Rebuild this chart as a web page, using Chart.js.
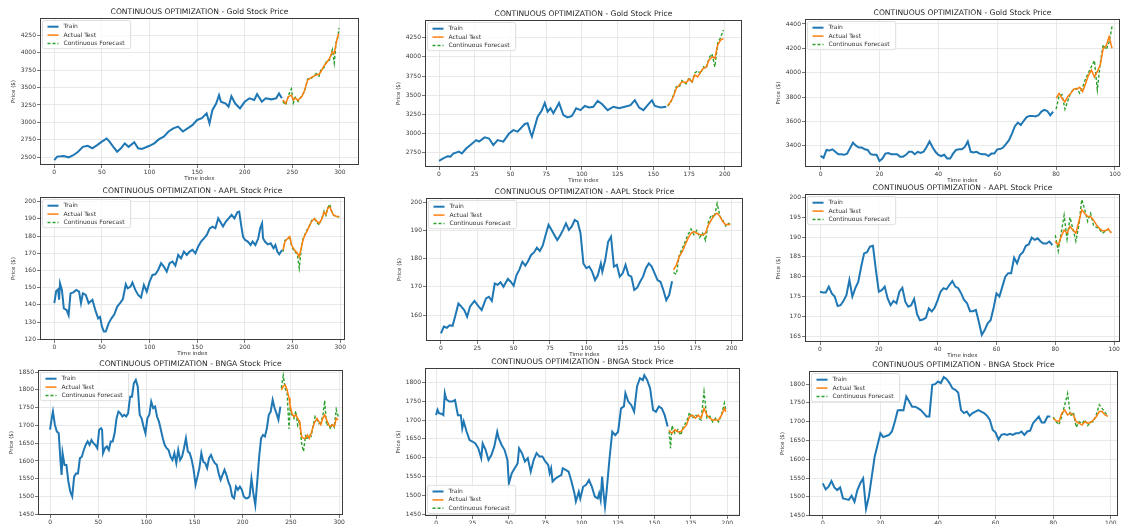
<!DOCTYPE html>
<html>
<head>
<meta charset="utf-8">
<script src="https://cdn.jsdelivr.net/npm/chart.js@4.4.0/dist/chart.umd.min.js"></script>
<style>
  body { margin: 0; width: 1124px; height: 524px; overflow: hidden; position: relative; background: #fff; }
  canvas { position: absolute; }
</style>
</head>
<body>
<script>
// tick labels
const ticksX300 = [0, 50, 100, 150, 200, 250, 300];
const ticksX200 = [0, 25, 50, 75, 100, 125, 150, 175, 200];
const ticksX100 = [0, 20, 40, 60, 80, 100];
const ticksGold300 = [2500, 2750, 3000, 3250, 3500, 3750, 4000, 4250];
const ticksGold200 = [2750, 3000, 3250, 3500, 3750, 4000, 4250];
const ticksGold100 = [3400, 3600, 3800, 4000, 4200, 4400];
const ticksAapl300 = [120, 130, 140, 150, 160, 170, 180, 190, 200];
const ticksAapl200 = [160, 170, 180, 190, 200];
const ticksAapl100 = [165, 170, 175, 180, 185, 190, 195, 200];
const ticksBnga300 = [1450, 1500, 1550, 1600, 1650, 1700, 1750, 1800, 1850];
const ticksBnga200 = [1450, 1500, 1550, 1600, 1650, 1700, 1750, 1800];

//Gold - 300 points
const gold300TrainIdx = [0,3,10,15,20,25,30,35,40,45,50,55,58,62,66,70,74,78,84,88,92,100,105,110,115,120,125,130,135,140,145,150,155,160,163,166,170,173,175,180,183,186,190,195,200,205,210,213,218,222,228,233,236,239];
const gold300Train = [2460,2510,2520,2500,2530,2580,2650,2665,2630,2675,2725,2770,2725,2650,2580,2630,2700,2650,2715,2630,2620,2665,2700,2760,2795,2870,2915,2940,2870,2915,2960,3035,3060,3130,2985,3175,3270,3390,3295,3270,3225,3375,3270,3200,3295,3345,3320,3405,3295,3345,3330,3345,3415,3345];
const gold300TestIdx = [240,243,246,249,251,253,256,260,263,266,270,275,278,280,283,286,289,292,294,296,298,299];
const gold300Test = [3320,3270,3370,3390,3320,3345,3320,3370,3465,3605,3645,3680,3690,3725,3805,3855,3915,4010,3990,4130,4250,4270];
const gold300Forecast = [3300,3250,3390,3480,3280,3360,3300,3380,3450,3620,3630,3700,3660,3750,3780,3880,3890,4040,3850,4150,4230,4350];

//Gold - 200 points
const gold200TrainIdx = [0,3,6,8,10,14,16,19,22,26,28,32,35,38,41,45,49,52,55,60,62,64,65,67,69,72,74,76,78,80,84,87,90,93,96,99,102,105,108,111,114,118,122,126,130,134,137,140,143,146,149,151,155,159];
const gold200Train = [2645,2675,2705,2700,2740,2765,2740,2805,2850,2915,2895,2950,2935,2850,2915,2895,3000,3045,3025,3125,3135,3010,2960,3090,3220,3305,3400,3285,3330,3265,3400,3240,3210,3230,3330,3305,3360,3340,3350,3425,3385,3305,3350,3330,3350,3370,3435,3340,3305,3370,3435,3360,3340,3350];
const gold200TestIdx = [160,162,164,166,168,170,173,175,177,179,181,183,185,187,189,191,193,195,197,199];
const gold200Test = [3365,3415,3480,3590,3630,3675,3665,3710,3675,3765,3740,3805,3850,3870,3960,4000,3980,4155,4220,4240];
const gold200Forecast = [3360,3400,3500,3610,3600,3690,3650,3730,3660,3790,3820,3780,3870,3850,3990,4040,3870,4180,4250,4350];

//Gold - 100 points
const gold100TrainIdx = [0,1,2,3,4,5,6,7,8,9,10,11,12,13,14,15,16,17,18,19,20,21,22,23,24,25,26,27,28,29,30,31,32,33,34,35,36,37,38,39,40,41,42,43,44,45,46,47,48,49,50,51,52,53,54,55,56,57,58,59,60,61,62,63,64,65,66,67,68,69,70,71,72,73,74,75,76,77,78,79];
const gold100Train = [3318,3300,3365,3360,3370,3350,3330,3330,3325,3335,3380,3425,3400,3385,3385,3370,3365,3330,3325,3325,3275,3295,3335,3340,3330,3330,3330,3310,3310,3325,3350,3350,3330,3350,3340,3350,3390,3435,3390,3350,3325,3315,3325,3295,3295,3335,3365,3370,3370,3390,3435,3350,3345,3350,3335,3330,3330,3315,3335,3335,3370,3372,3385,3415,3445,3500,3560,3590,3570,3605,3635,3645,3645,3640,3650,3680,3695,3685,3650,3680];
const gold100TestIdx = [80,81,82,83,84,85,86,87,88,89,90,91,92,93,94,95,96,97,98,99];
const gold100Test = [3790,3830,3790,3760,3805,3830,3865,3865,3880,3845,3910,3980,4020,3965,4010,4065,4200,4220,4295,4200];
const gold100Forecast = [3700,3810,3820,3700,3770,3840,3860,3870,3830,3880,3950,4000,4050,4100,3860,4080,4230,4190,4250,4380];

//AAPL - 300 points
const aapl300TrainIdx = [0,2,4,5,6,8,10,13,15,17,20,23,26,28,30,33,36,40,43,46,48,50,52,54,57,60,63,66,69,72,75,77,80,82,85,88,91,94,97,100,103,106,109,112,115,118,121,124,127,130,133,136,139,142,145,148,151,154,157,160,163,166,169,172,174,177,180,183,186,189,192,194,196,198,200,203,206,208,211,214,216,218,219,221,224,227,230,232,234,236,239];
const aapl300Train = [141,148,149,143,152.5,148.7,138,137,134,146.7,147.3,148.7,147.7,141,146.7,145.8,141,143,137,132.2,133,127.4,124.5,124.5,129.3,132.2,134.5,139,141,143.4,152,149.6,150.6,153,148.7,145.8,144.2,151.6,147.7,153.5,157.4,157.8,160.3,164.2,162.2,159.3,164.2,165.2,162.8,169,167,171,169,171,172,170,173.9,176.8,178.7,180.7,184.5,185.5,184.5,190.3,188.4,185.5,188.4,190.3,192.3,190.3,193.8,194.2,186.5,179.7,177.8,176.8,174.8,176.8,174.8,178.7,184.5,187.4,178.7,176.8,175.2,175.8,172.9,174.8,171,169.4,171.9];
const aapl300TestIdx = [240,242,245,247,249,252,255,257,259,261,263,265,268,270,273,275,278,281,283,285,287,289,291,293,296,299];
const aapl300Test = [171.9,176.8,178.7,179.7,174.8,171.9,170,168,172.9,177.8,180.7,182.6,186.5,188.4,190.3,188.8,187.4,190.3,193.8,192.6,196.2,197.1,194.2,192.3,191.3,191.3];
const aapl300Forecast = [171,177.5,178,180,174,171,169.5,161.5,172,178.5,181,183.5,186,189,190,188,186.5,191,194.5,192,196.5,198.5,194.5,192,191.5,191];

//AAPL - 200 points
const aapl200TrainIdx = [0,2,4,6,8,10,12,14,16,18,20,23,26,28,31,33,35,37,39,41,43,46,48,50,52,54,56,58,60,62,64,66,68,70,72,74,76,78,80,82,84,86,88,90,92,94,96,98,100,102,104,106,108,110,111,113,115,117,119,121,123,125,127,129,131,133,135,137,139,141,143,145,147,149,151,153,155,157,159];
const aapl200Train = [153.5,155.9,155.5,156.4,156.2,160,164.1,163,161.8,159.4,163,165,163,161.8,165.9,166.5,165,171.2,170.7,171.6,170,172.8,171.8,170.4,174.2,176.2,178.9,177.5,179.2,181.3,182.2,183.9,182.7,184.6,188.4,192,190.2,188.4,186.6,188.2,190.2,192.5,190.2,191.4,193.7,193.1,189,178.3,176.6,177.2,175.4,172.4,174.2,178.3,175.4,179.5,186,187.8,177.2,177.8,173.6,174.8,177.8,174.2,173.6,168.9,169.7,171.8,173.6,176.6,178.3,177.2,174.8,172.4,171.8,168.9,165.3,167.1,172];
const aapl200TestIdx = [160,162,164,166,168,170,172,174,176,178,180,182,184,186,188,190,192,194,196,198,199];
const aapl200Test = [176,177.8,180.7,182.5,184.9,187.2,189,189.6,189,188.6,188.4,189,192,193.7,195.5,196.1,194.9,193.1,192,192.2,192];
const aapl200Forecast = [175,174.5,181.5,183.5,186,188.5,190.5,188.5,190,187.5,189,186.5,193,195.5,194.5,199.5,195,193.5,191.5,192.5,192.2];

//AAPL - 100 points
const aapl100TrainIdx = gold100TrainIdx;
const aapl100Train = [176.2,176,176,177.5,175.8,175,172.6,172.8,173.9,175.4,179.2,175,177.1,178.7,182.5,185.9,186.2,187.6,187.8,181.7,176.2,176.6,177.5,174.5,172.8,173.9,173.3,176.2,177.2,173.7,172.4,172.8,174.4,170.5,169,169.2,169.6,172,171.2,172.2,174.1,176.2,177.1,176.8,177.9,178.9,177.5,177.1,175.8,174.1,173.3,171.3,171.3,171.6,168.6,165.3,166.5,168.2,169,172,175.8,175,177.5,180,180.9,180.9,184.8,183.4,185.5,186.2,187.8,188.2,189.9,189.3,189.7,188.9,188.4,188.4,188.9,188];
const aapl100TestIdx = gold100TestIdx;
const aapl100Test = [188.9,188,190.1,191.8,191,192.7,191.8,191,193.9,196.9,196,195.2,195.2,194.3,193.1,192.2,191.6,191.6,192.1,191];
const aapl100Forecast = [190.5,186.5,191,195.5,189.5,195,192,189,193,199.5,197,194,196,193,192.5,192,191,191.5,192,191.2];

//BNGA - 300 points
const bnga300TrainIdx = [0,2,3,5,7,9,11,12,13,15,17,19,21,23,25,27,29,31,33,35,37,39,41,43,45,47,49,51,53,54,55,57,59,61,63,65,67,69,71,73,75,77,79,81,83,85,87,89,91,93,95,97,99,101,103,105,107,109,111,113,115,117,119,121,123,125,127,129,131,133,135,137,139,141,143,145,147,149,151,153,155,157,159,161,163,165,167,169,171,173,175,177,179,181,183,185,187,189,191,193,195,197,199,201,203,205,207,209,211,213,215,217,219,221,223,225,227,229,231,233,235,237,239];
const bnga300Train = [1688,1725,1739,1702,1683,1678,1594,1561,1622,1589,1589,1542,1514,1500,1556,1565,1565,1608,1612,1631,1645,1655,1645,1659,1650,1645,1636,1688,1692,1688,1622,1636,1641,1631,1655,1655,1678,1720,1739,1734,1725,1730,1725,1734,1781,1781,1819,1828,1810,1730,1720,1697,1678,1720,1730,1767,1749,1753,1725,1711,1688,1664,1645,1636,1631,1612,1603,1622,1594,1631,1603,1612,1636,1664,1627,1622,1603,1575,1533,1556,1580,1622,1598,1594,1580,1608,1617,1603,1594,1589,1565,1547,1561,1575,1561,1542,1528,1500,1495,1528,1519,1528,1519,1500,1495,1495,1500,1551,1509,1476,1542,1612,1664,1673,1669,1692,1730,1739,1772,1749,1734,1716,1753];
const bnga300TestIdx = [240,242,244,246,248,249,251,253,255,257,259,261,263,265,267,269,271,273,275,277,279,281,283,285,287,289,291,293,295,297,299];
const bnga300Test = [1800,1810,1814,1800,1777,1758,1734,1725,1730,1720,1711,1669,1664,1664,1673,1664,1678,1697,1711,1720,1711,1702,1720,1730,1716,1702,1697,1702,1697,1720,1716];
const bnga300Forecast = [1805,1840,1805,1790,1690,1745,1730,1720,1740,1700,1715,1650,1627,1670,1660,1675,1670,1700,1725,1715,1705,1710,1725,1770,1700,1705,1690,1705,1695,1745,1725];

//BNGA - 200 points
const bnga200TrainIdx = [0,1,2,4,5,6,7,9,11,13,15,17,18,19,21,23,25,27,29,31,32,34,36,38,40,42,43,45,47,49,50,52,54,56,57,59,61,63,65,67,69,71,73,75,77,78,79,80,82,84,86,87,89,91,93,95,96,98,99,101,103,105,107,109,111,112,113,114,115,116,117,119,121,123,125,127,129,130,132,134,136,138,140,142,143,145,147,149,151,153,155,157,159];
const bnga200Train = [1713,1727,1718,1716,1713,1771,1755,1749,1749,1753,1713,1713,1678,1696,1669,1647,1643,1638,1625,1599,1638,1621,1594,1607,1630,1669,1652,1634,1621,1594,1532,1559,1572,1585,1625,1612,1590,1599,1563,1594,1612,1603,1603,1590,1581,1559,1572,1537,1545,1550,1554,1572,1568,1563,1537,1506,1484,1510,1492,1523,1528,1541,1523,1497,1492,1506,1488,1550,1506,1470,1506,1594,1669,1660,1669,1731,1736,1771,1749,1740,1722,1789,1811,1806,1819,1806,1784,1727,1722,1736,1731,1713,1683];
const bnga200TestIdx = [160,161,162,164,166,168,170,172,174,176,178,180,182,184,186,188,190,192,194,196,198,199];
const bnga200Test = [1674,1668,1665,1674,1669,1669,1678,1687,1709,1713,1705,1713,1705,1731,1713,1705,1700,1700,1700,1713,1731,1722];
const bnga200Forecast = [1670,1625,1685,1665,1675,1660,1685,1695,1720,1705,1715,1705,1700,1775,1705,1710,1695,1705,1695,1715,1745,1725];

//BNGA - 100 points
const bnga100TrainIdx = gold100TrainIdx;
const bnga100Train = [1536,1520,1527,1542,1525,1518,1525,1496,1494,1492,1503,1487,1518,1536,1549,1468,1501,1554,1607,1638,1669,1659,1662,1665,1674,1700,1730,1731,1730,1767,1754,1740,1740,1736,1731,1723,1714,1714,1798,1800,1807,1803,1819,1813,1803,1789,1785,1778,1731,1723,1727,1716,1723,1727,1731,1727,1723,1716,1705,1678,1671,1652,1665,1667,1665,1668,1665,1669,1669,1674,1665,1674,1676,1696,1705,1714,1698,1698,1714,1714];
const bnga100TestIdx = gold100TestIdx;
const bnga100Test = [1709,1703,1700,1723,1731,1718,1723,1718,1700,1696,1691,1700,1696,1698,1705,1714,1727,1727,1718,1714];
const bnga100Forecast = [1712,1700,1692,1715,1745,1775,1715,1725,1685,1700,1695,1705,1690,1700,1700,1720,1745,1735,1725,1715];

// Mise en page des 9 graphes (rectangle de la zone de tracé, en px)
const panels = [
  { title: 'CONTINUOUS OPTIMIZATION - Gold Stock Price', trX: gold300TrainIdx, trY: gold300Train, teX: gold300TestIdx, teY: gold300Test, fc: gold300Forecast,
    xt: ticksX300, yt: ticksGold300, rect: [40, 18, 359, 165], xr: [-15, 320], yr: [2390, 4495] },
  { title: 'CONTINUOUS OPTIMIZATION - Gold Stock Price', trX: gold200TrainIdx, trY: gold200Train, teX: gold200TestIdx, teY: gold200Test, fc: gold200Forecast,
    xt: ticksX200, yt: ticksGold200, rect: [425, 20, 742, 167], xr: [-9.8, 212], yr: [2564, 4481] },
  { title: 'CONTINUOUS OPTIMIZATION - Gold Stock Price', trX: gold100TrainIdx, trY: gold100Train, teX: gold100TestIdx, teY: gold100Test, fc: gold100Forecast,
    xt: ticksX100, yt: ticksGold100, rect: [805, 19, 1120, 167], xr: [-5.3, 101.7], yr: [3225, 4441] },
  { title: 'CONTINUOUS OPTIMIZATION - AAPL Stock Price', trX: aapl300TrainIdx, trY: aapl300Train, teX: aapl300TestIdx, teY: aapl300Test, fc: aapl300Forecast,
    xt: ticksX300, yt: ticksAapl300, rect: [40, 197, 345, 340], xr: [-15, 305], yr: [119.6, 202.7] },
  { title: 'CONTINUOUS OPTIMIZATION - AAPL Stock Price', trX: aapl200TrainIdx, trY: aapl200Train, teX: aapl200TestIdx, teY: aapl200Test, fc: aapl200Forecast,
    xt: ticksX200, yt: ticksAapl200, rect: [426, 198, 743, 341], xr: [-10.3, 207.8], yr: [150.8, 201.5] },
  { title: 'CONTINUOUS OPTIMIZATION - AAPL Stock Price', trX: aapl100TrainIdx, trY: aapl100Train, teX: aapl100TestIdx, teY: aapl100Test, fc: aapl100Forecast,
    xt: ticksX100, yt: ticksAapl100, rect: [805, 194, 1120, 342], xr: [-5.1, 102], yr: [163.5, 200.9] },
  { title: 'CONTINUOUS OPTIMIZATION - BNGA Stock Price', trX: bnga300TrainIdx, trY: bnga300Train, teX: bnga300TestIdx, teY: bnga300Test, fc: bnga300Forecast,
    xt: ticksX300, yt: ticksBnga300, rect: [38, 370, 343, 515], xr: [-12.5, 304], yr: [1448, 1856] },
  { title: 'CONTINUOUS OPTIMIZATION - BNGA Stock Price', trX: bnga200TrainIdx, trY: bnga200Train, teX: bnga200TestIdx, teY: bnga200Test, fc: bnga200Forecast,
    xt: ticksX200, yt: ticksBnga200, rect: [425, 368, 740, 516], xr: [-7.6, 208.7], yr: [1445.5, 1838], legendBottom: true },
  { title: 'CONTINUOUS OPTIMIZATION - BNGA Stock Price', trX: bnga100TrainIdx, trY: bnga100Train, teX: bnga100TestIdx, teY: bnga100Test, fc: bnga100Forecast,
    xt: ticksX100, yt: ticksBnga200, rect: [809, 371, 1118, 516], xr: [-4.8, 102.5], yr: [1449, 1835] }
];

const PAD_L = 30, PAD_R = 4, PAD_T = 20, PAD_B = 17;
Chart.defaults.font.family = '"DejaVu Sans", sans-serif';

// titre + cadre type matplotlib
const frameTitle = {
  id: 'frameTitle',
  afterDatasetsDraw(chart, args, opts) {
    const { ctx, chartArea: a } = chart;
    ctx.save();
    ctx.strokeStyle = '#3c3c3c';
    ctx.lineWidth = 1;
    ctx.strokeRect(a.left + 0.5, a.top + 0.5, a.right - a.left - 1, a.bottom - a.top - 1);
    ctx.font = '7.6px "DejaVu Sans"';
    ctx.fillStyle = '#262626';
    ctx.textAlign = 'center';
    ctx.textBaseline = 'middle';
    ctx.fillText(opts.text, (a.left + a.right) / 2, a.top - 6);
    ctx.restore();
  }
};

// legende dans la zone de tracé
const insideLegend = {
  id: 'insideLegend',
  afterDraw(chart, args, opts) {
    const { ctx, chartArea: a } = chart;
    const ds = chart.data.datasets;
    ctx.save();
    ctx.font = '6px "DejaVu Sans"';
    let tw = 0;
    ds.forEach(d => { tw = Math.max(tw, ctx.measureText(d.label).width); });
    const rowH = 8.4, w = 23 + tw + 4, h = ds.length * rowH + 3;
    const x0 = a.left + 2.5, y0 = opts.bottom ? a.bottom - 2.5 - h : a.top + 2.5;
    const r = 2;
    ctx.beginPath();
    ctx.moveTo(x0 + r, y0); ctx.lineTo(x0 + w - r, y0); ctx.quadraticCurveTo(x0 + w, y0, x0 + w, y0 + r);
    ctx.lineTo(x0 + w, y0 + h - r); ctx.quadraticCurveTo(x0 + w, y0 + h, x0 + w - r, y0 + h);
    ctx.lineTo(x0 + r, y0 + h); ctx.quadraticCurveTo(x0, y0 + h, x0, y0 + h - r);
    ctx.lineTo(x0, y0 + r); ctx.quadraticCurveTo(x0, y0, x0 + r, y0);
    ctx.fillStyle = 'rgba(255,255,255,0.8)';
    ctx.fill();
    ctx.strokeStyle = '#d6d6d6';
    ctx.lineWidth = 0.8;
    ctx.stroke();
    ds.forEach((d, i) => {
      const y = y0 + 2 + rowH * i + rowH / 2;
      ctx.beginPath();
      ctx.setLineDash(d.borderDash || []);
      ctx.strokeStyle = d.borderColor;
      ctx.lineWidth = d.borderWidth;
      ctx.moveTo(x0 + 5, y); ctx.lineTo(x0 + 16, y);
      ctx.stroke();
      ctx.setLineDash([]);
      ctx.fillStyle = '#333';
      ctx.textAlign = 'left';
      ctx.textBaseline = 'middle';
      ctx.fillText(d.label, x0 + 21, y);
    });
    ctx.restore();
  }
};

function pts(xs, ys) {
  return xs.map((x, i) => ({ x: x, y: ys[i] }));
}

panels.forEach(p => {
  const [l, t, r, b] = p.rect;
  const W = PAD_L + (r - l) + PAD_R;
  const H = PAD_T + (b - t) + PAD_B;
  const cv = document.createElement('canvas');
  cv.width = W; cv.height = H;
  cv.style.left = (l - PAD_L) + 'px';
  cv.style.top = (t - PAD_T) + 'px';
  cv.style.width = W + 'px';
  cv.style.height = H + 'px';
  document.body.appendChild(cv);

  new Chart(cv, {
    type: 'line',
    data: {
      datasets: [
        { label: 'Train', data: pts(p.trX, p.trY), borderColor: '#1f77b4', borderWidth: 2 },
        { label: 'Actual Test', data: pts(p.teX, p.teY), borderColor: '#ff7f0e', borderWidth: 1.5 },
        { label: 'Continuous Forecast', data: pts(p.teX, p.fc), borderColor: '#2ca02c', borderWidth: 1.4, borderDash: [3, 2] }
      ]
    },
    options: {
      responsive: false,
      animation: false,
      devicePixelRatio: 1,
      events: [],
      elements: { point: { radius: 0 }, line: { tension: 0 } },
      layout: { padding: { top: PAD_T, right: PAD_R, left: 0, bottom: 0 } },
      plugins: {
        legend: { display: false },
        tooltip: { enabled: false },
        frameTitle: { text: p.title },
        insideLegend: { bottom: !!p.legendBottom }
      },
      scales: {
        x: {
          type: 'linear', min: p.xr[0], max: p.xr[1],
          afterBuildTicks: ax => { ax.ticks = p.xt.map(v => ({ value: v })); },
          afterFit: ax => { ax.height = PAD_B; },
          ticks: { font: { size: 6 }, color: '#3a3a3a', padding: 1, maxRotation: 0, autoSkip: false, callback: v => String(v) },
          grid: { color: '#e3e3e3', lineWidth: 0.8, tickLength: 3, tickColor: '#555' },
          border: { display: false },
          title: { display: true, text: 'Time index', font: { size: 5.5 }, color: '#333', padding: { top: 0, bottom: 0 } }
        },
        y: {
          type: 'linear', min: p.yr[0], max: p.yr[1],
          afterBuildTicks: ax => { ax.ticks = p.yt.map(v => ({ value: v })); },
          afterFit: ax => { ax.width = PAD_L; },
          ticks: { font: { size: 6 }, color: '#3a3a3a', padding: 1, callback: v => String(v) },
          grid: { color: '#e3e3e3', lineWidth: 0.8, tickLength: 3, tickColor: '#555' },
          border: { display: false },
          title: { display: true, text: 'Price ($)', font: { size: 5.5 }, color: '#333', padding: { top: 0, bottom: 0 } }
        }
      }
    },
    plugins: [frameTitle, insideLegend]
  });
});
</script>
</body>
</html>
